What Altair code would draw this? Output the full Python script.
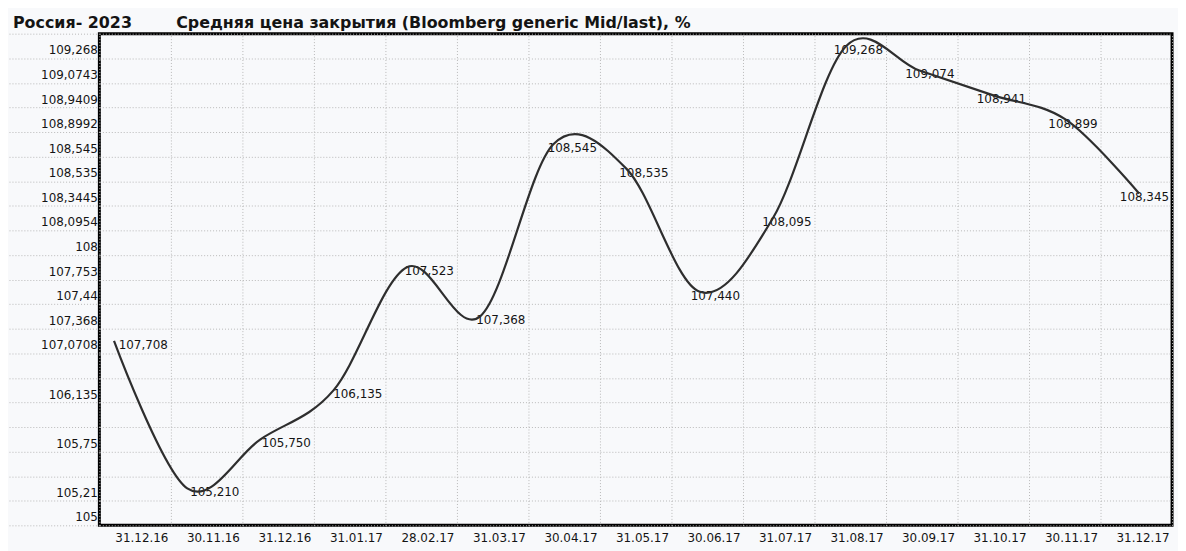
import json
import altair as alt
import pandas as pd

# Dates in the row under the chart (one per spreadsheet column)
dates = ["31.12.16", "30.11.16", "31.12.16", "31.01.17", "28.02.17", "31.03.17", "30.04.17",
         "31.05.17", "30.06.17", "31.07.17", "31.08.17", "30.09.17", "31.10.17", "30.11.17", "31.12.17"]
# Printed values of the series
values = ["107,708", "105,210", "105,750", "106,135", "107,523", "107,368", "108,545",
          "108,535", "107,440", "108,095", "109,268", "109,074", "108,941", "108,899", "108,345"]
# Axis level (tick label row) at which each value is drawn
levels = ["107,0708", "105,21", "105,75", "106,135", "107,753", "107,368", "108,545",
          "108,535", "107,44", "108,0954", "109,268", "109,0743", "108,9409", "108,8992", "108,3445"]
# Y-axis tick labels, top to bottom (empty rows have no label)
y_ticks = ["109,268", "109,0743", "108,9409", "108,8992", "108,545", "108,535", "108,3445",
           "108,0954", "108", "107,753", "107,44", "107,368", "107,0708", "", "106,135", "",
           "105,75", "", "105,21", "105"]

title_left = "Россия- 2023"
title_right = "Средняя цена закрытия (Bloomberg generic Mid/last), %"

rows = [y_ticks.index(l) for l in levels]
df = pd.DataFrame({"idx": list(range(len(dates))), "date": dates, "value": values,
                   "level": levels, "row": rows})

FONT = "DejaVu Sans"
GRID = "#b8b8b8"
INK = "#141414"

y_enc = alt.Y(
    "row:O",
    scale=alt.Scale(domain=list(range(len(y_ticks))), paddingInner=0, paddingOuter=0),
    axis=alt.Axis(
        title=None, labelExpr=f"{json.dumps(y_ticks)}[datum.value]",
        tickBand="extent", grid=True, gridColor=GRID, gridDash=[1, 2], gridWidth=1,
        ticks=True, tickSize=92, tickColor=GRID, tickDash=[1, 2], tickWidth=1,
        labelPadding=-90, labelOffset=4, domain=False,
        labelFont=FONT, labelFontSize=12, labelColor=INK,
    ),
)

text = alt.Chart(df).mark_text(
    align="right", baseline="middle", dx=-3, dy=4, font=FONT, fontSize=12, color=INK
).encode(
    x=alt.X(
        "idx:O", bandPosition=1,
        scale=alt.Scale(domain=list(range(len(dates))), paddingInner=0, paddingOuter=0),
        axis=alt.Axis(
            title=None, labelExpr=f"{json.dumps(dates)}[datum.value]",
            tickBand="extent", grid=True, gridColor=GRID, gridDash=[1, 2], gridWidth=1,
            ticks=False, tickSize=0, labelAlign="right", labelOffset=33, labelPadding=7,
            labelAngle=0, domain=False, labelFont=FONT, labelFontSize=12, labelColor=INK,
        ),
    ),
    y=y_enc,
    text="value:N",
)

line = alt.Chart(df).mark_line(interpolate="cardinal", color="#2e2e2e", strokeWidth=2.2).encode(
    x=alt.X("idx:Q", scale=alt.Scale(domain=[-0.2, 14.45], nice=False, zero=False), axis=None),
    y=y_enc,
    order="idx:Q",
)

chart = (
    alt.layer(text, line)
    .resolve_scale(x="independent")
    .properties(
        width=1080, height=495,
        padding={"left": 92, "top": 24, "right": 6, "bottom": 24},
        autosize=alt.AutoSizeParams(type="none"),
        background="#f8f9fb",
        title=alt.TitleParams(
            text=title_left + "\u00a0" * 8 + title_right,
            anchor="start", frame="group", dx=-87, dy=8, offset=5,
            font=FONT, fontSize=16, fontWeight="bold", color=INK,
        ),
    )
    .configure_view(stroke="black", strokeWidth=3)
)

chart.save("out.html", embed_options={"renderer": "svg", "actions": False})
